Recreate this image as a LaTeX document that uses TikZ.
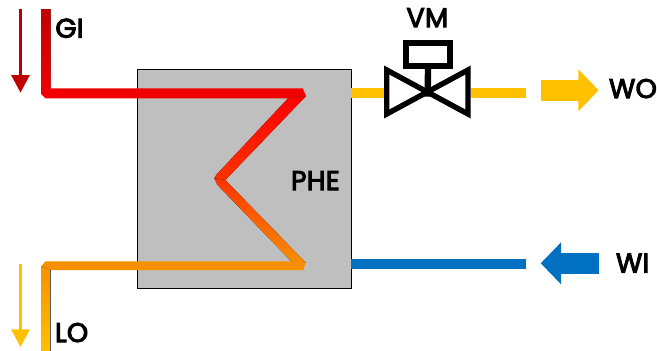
\documentclass[tikz,border=0pt]{standalone}
\usepackage{fontspec}
\setmainfont{Poppins}[LetterSpace=1]
\usetikzlibrary{arrows.meta}
\definecolor{pipeyel}{HTML}{FFC000}
\definecolor{pipeblu}{HTML}{0070C0}
\definecolor{darkred}{HTML}{C00000}
\definecolor{pipered}{HTML}{F00000}
\definecolor{brightred}{HTML}{FF0000}
\definecolor{midred}{HTML}{FF3300}
\definecolor{pipeora}{HTML}{F79000}
\newcommand{\heavytext}[1]{\special{pdf:code q 2 Tr 1.05 w}#1\special{pdf:code Q}}
\tikzset{
  lab/.style={inner sep=0pt,outer sep=0pt,anchor=base west,font=\fontsize{27}{27}\selectfont,text=black},
  pipe/.style={line width=9.4pt},
  thinarrow/.style={line width=3pt,-{Triangle[length=17.7pt,width=18pt]}},
  blockarrow/.style={line width=20.4pt,-{Triangle[length=20.4pt,width=40.8pt]}},
  valveline/.style={draw=black,line width=5.4pt,miter limit=10,line join=miter},
}
\begin{document}
\begin{tikzpicture}[x=1pt,y=-1pt]
\useasboundingbox (0,0) rectangle (657,351);
% exchanger
\node[draw=black,fill=black!25,line width=1pt,minimum width=214pt,minimum height=219.3pt,inner sep=0pt,outer sep=0pt] (phe) at (244.3,178.7) {};
% hot side pipe
\fill[top color=darkred,bottom color=pipered] (41,9) -- (50.7,9) -- (50.7,88.6) -- (41,91) -- cycle;
\fill[pipered] (41,91) -- (50.7,88.3) -- (302.7,88.3) -- (306,96) -- (288,98.4) -- (45.5,98.4) -- (41,94) -- cycle;
\fill[top color=brightred,bottom color=midred] (306,96) -- (225.3,180) -- (214.3,178.3) -- (216.2,175) -- (288,98.4) -- cycle;
\fill[top color=midred,bottom color=pipeora] (214.3,178.3) -- (225.3,180) -- (305.7,262.7) -- (291.7,261.7) -- (217.6,185) -- cycle;
\fill[pipeora] (305.7,262.7) -- (303.3,270) -- (50.6,270) -- (41.6,266) -- (45.5,261.3) -- (291.7,261.3) -- cycle;
\fill[top color=pipeora,bottom color=pipeyel] (41.6,266) -- (50.6,270) -- (50.6,351) -- (41.6,351) -- cycle;
% cold side pipes
\coordinate (vl) at (384,93);
\coordinate (vr) at (471,93);
\coordinate (woend) at (526,93);
\coordinate (wiend) at (526,264);
\draw[pipe,pipeyel] (phe.east |- vl) -- (vl);
\draw[pipe,pipeyel] (vr) -- (woend);
\draw[pipe,pipeblu] (phe.east |- wiend) -- (wiend);
% valve
\draw[valveline,fill=white] (386.7,70) -- (386.7,114) -- (468,70) -- (468,114) -- cycle;
\node[draw=black,line width=6pt,fill=white,minimum width=43.7pt,minimum height=23pt,inner sep=0pt,outer sep=0pt] (act) at (428.1,54.5) {};
\coordinate (vc) at (427.6,96.7);
\draw[black,line width=6.4pt] (act.south) -- (vc);
% flow arrows
\coordinate (ga) at (20.5,9);
\coordinate (gb) at (20.5,92.7);
\coordinate (la) at (20.5,264);
\coordinate (lb) at (20.5,347);
\draw[thinarrow,darkred] (ga) -- (gb);
\draw[thinarrow,pipeyel] (la) -- (lb);
\coordinate (woa) at (540.7,90.3);
\coordinate (wob) at (598.7,90.3);
\coordinate (wia) at (598.7,263.3);
\coordinate (wib) at (540.7,263.3);
\draw[blockarrow,pipeyel] (woa) -- (wob);
\draw[blockarrow,pipeblu] (wia) -- (wib);
% labels
\node[lab] (gi) at (55.5,37.7) {\heavytext{GI}};
\node[lab] (lo) at (55,342) {\heavytext{LO}};
\node[lab] (vm) at (406.5,27) {\heavytext{VM}};
\node[lab] (wo) at (609,98) {\heavytext{WO}};
\node[lab] (wi) at (616,272.5) {\heavytext{WI}};
\node[lab] (phel) at (291,190) {\heavytext{PHE}};
\end{tikzpicture}
\end{document}
